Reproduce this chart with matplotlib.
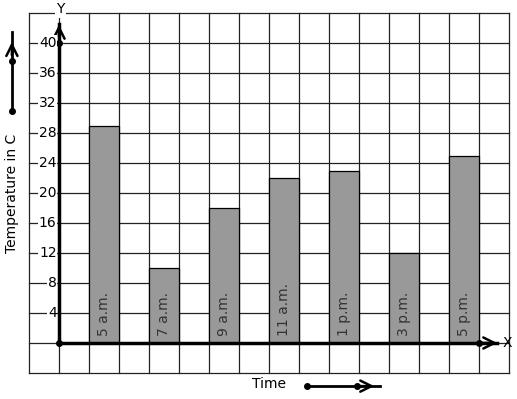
import matplotlib
matplotlib.use("Agg")
from matplotlib import pyplot as plt

times = ["5 a.m.", "7 a.m.", "9 a.m.", "11 a.m.", "1 p.m.", "3 p.m.", "5 p.m."]
temps = [29, 10, 18, 22, 23, 12, 25]
yticks = [4, 8, 12, 16, 20, 24, 28, 32, 36, 40]

fig = plt.figure(figsize=(5.17, 3.99), dpi=100)
ax = fig.add_axes([0, 0, 1, 1])
ax.set_xlim(-59 / 30, 458 / 30)
ax.set_ylim(-56 / 7.5, 343 / 7.5)
ax.axis("off")

# squared paper
for gx in range(-1, 16):
    ax.plot([gx, gx], [-4, 44], color="#222222", lw=0.9, zorder=1)
for gy in range(-4, 45, 4):
    ax.plot([-1, 15], [gy, gy], color="#222222", lw=0.9, zorder=1)

# bars, each 1 cell wide, one cell gap
xs = [1.5 + 2 * i for i in range(len(times))]
ax.bar(xs, temps, width=1, color="#999999", edgecolor="black", lw=0.9, zorder=2)
for x, t in zip(xs, times):
    ax.text(x, 1.0, t, rotation=90, ha="center", va="bottom", fontsize=10,
            color="#333333", zorder=3)

arrow = dict(arrowstyle="->", lw=1.8, color="black", mutation_scale=20)

# axes with arrows
ax.plot([0, 0], [0, 42.5], color="black", lw=2.5, zorder=4)
ax.plot([0, 14.6], [0, 0], color="black", lw=2.5, zorder=4)
ax.annotate("", xy=(0, 42.8), xytext=(0, 40.5), arrowprops=arrow, zorder=5)
ax.annotate("", xy=(14.7, 0), xytext=(14.0, 0), arrowprops=arrow, zorder=5)
ax.plot([0, 0, 14], [0, 40, 0], "o", color="black", ms=4, zorder=5)
ax.text(0.05, 44.5, "Y", ha="center", va="center", fontsize=10,
        bbox=dict(facecolor="white", edgecolor="none", pad=1), zorder=6)
ax.text(14.95, 0, "X", ha="center", va="center", fontsize=10, zorder=6)

for v in yticks:
    ax.text(-0.08, v, str(v), ha="right", va="center", fontsize=10,
            bbox=dict(facecolor="white", edgecolor="none", pad=0.5), zorder=6)

# axis titles with direction arrows
ax.text(-1.57, 20, "Temperature in C", rotation=90, ha="center", va="center", fontsize=10)
ax.plot([-1.57, -1.57], [30.9, 41.5], color="black", lw=2)
ax.annotate("", xy=(-1.57, 40.5), xytext=(-1.57, 38), arrowprops=arrow)
ax.plot([-1.57, -1.57], [30.9, 37.6], "o", color="black", ms=4)

ax.text(7, -5.5, "Time", ha="center", va="center", fontsize=10)
ax.plot([8.27, 10.7], [-5.75, -5.75], color="black", lw=2)
ax.annotate("", xy=(10.6, -5.75), xytext=(9.8, -5.75), arrowprops=arrow)
ax.plot([8.27, 9.93], [-5.75, -5.75], "o", color="black", ms=4)

fig.savefig("out.png", dpi=100)
